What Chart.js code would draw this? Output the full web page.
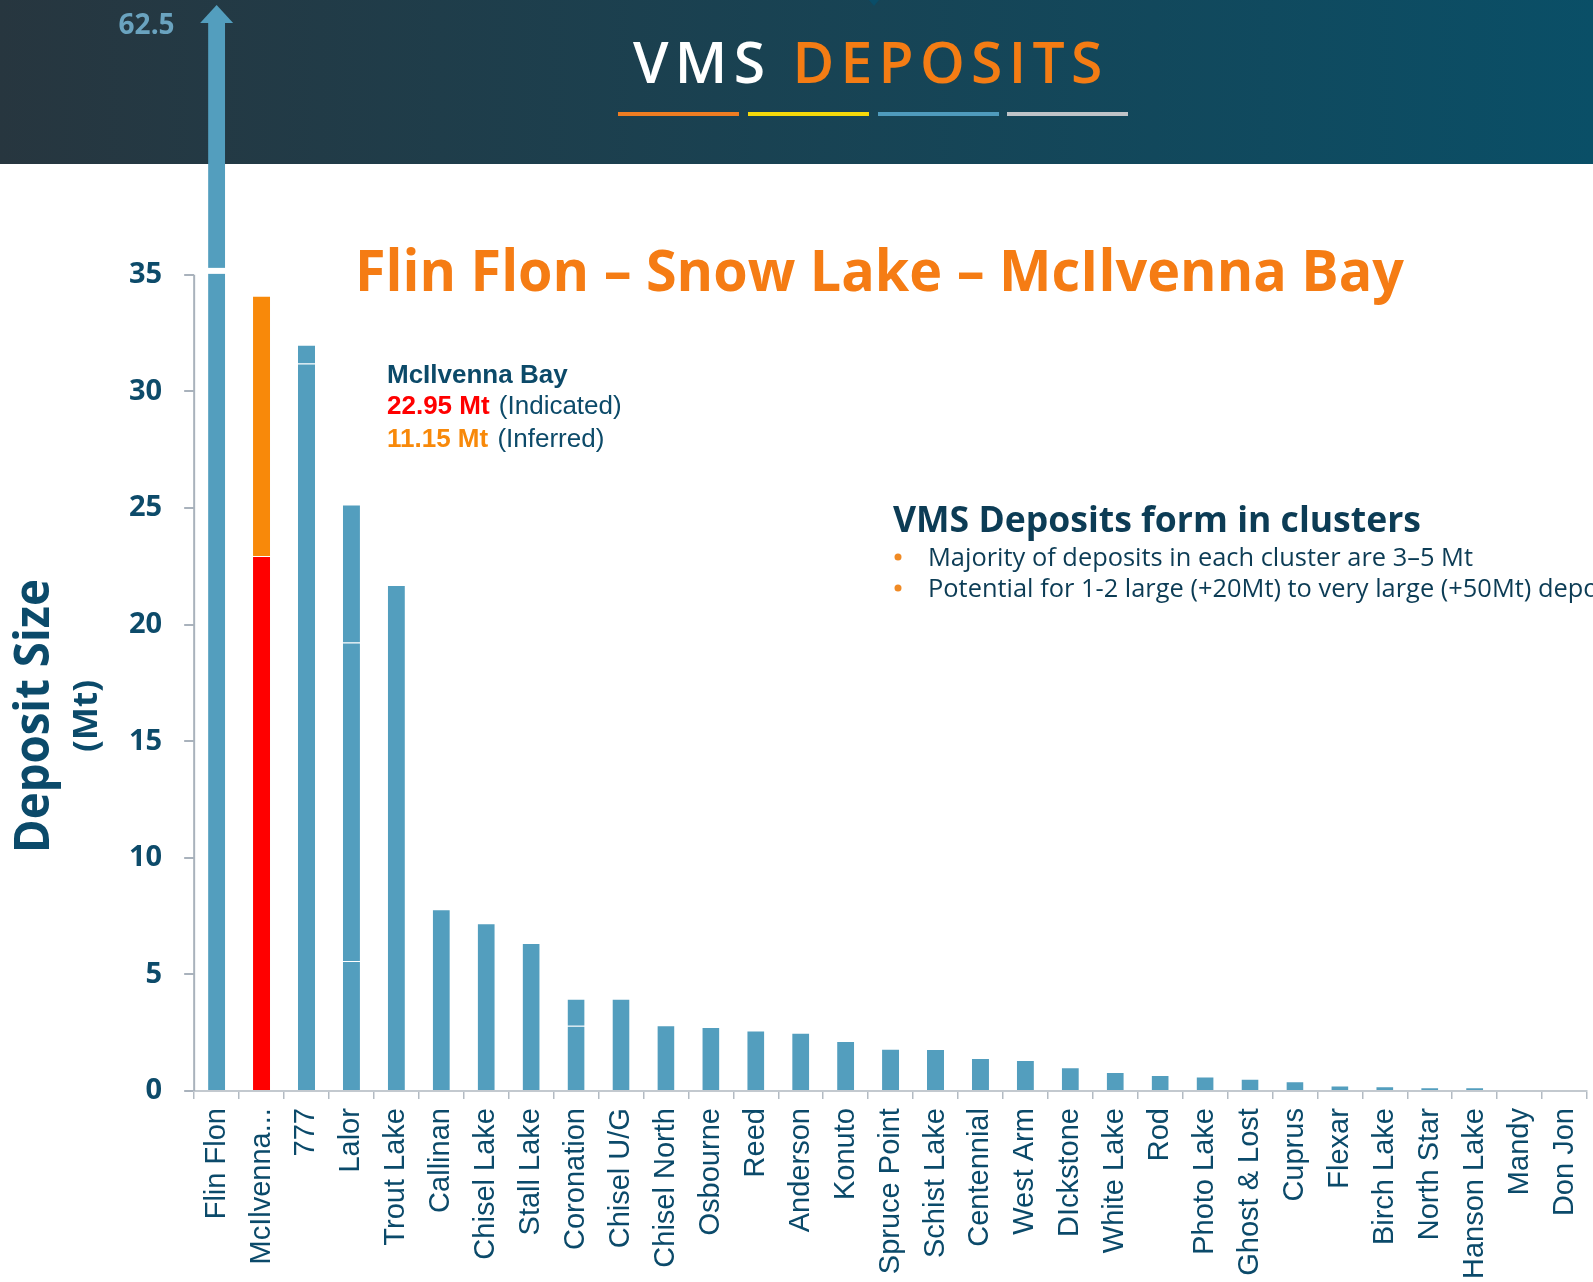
<!DOCTYPE html>
<html>
<head>
<meta charset="utf-8">
<script src="https://cdn.jsdelivr.net/npm/chart.js@4/dist/chart.umd.min.js"></script>
<style>
  html, body { margin: 0; padding: 0; background: #ffffff; overflow: hidden; }
  #chart { display: block; }
</style>
</head>
<body>
<canvas id="chart" width="1593" height="1282"></canvas>
<script>
const categories = ['Flin Flon', 'McIlvenna...', '777', 'Lalor', 'Trout Lake', 'Callinan', 'Chisel Lake',
    'Stall Lake', 'Coronation', 'Chisel U/G', 'Chisel North', 'Osbourne', 'Reed', 'Anderson', 'Konuto',
    'Spruce Point', 'Schist Lake', 'Centennial', 'West Arm', 'DIckstone', 'White Lake', 'Rod', 'Photo Lake',
    'Ghost & Lost', 'Cuprus', 'Flexar', 'Birch Lake', 'North Star', 'Hanson Lake', 'Mandy', 'Don Jon'];

// Mt, bottom piece of each bar (McIlvenna: indicated)
const lowerPart = [62.5, 22.95, 31.2, 5.58, 21.7, 7.8, 7.2, 6.35, 2.8, 3.96, 2.82, 2.75, 2.6, 2.5, 2.15,
    1.82, 1.8, 1.42, 1.33, 1.02, 0.82, 0.69, 0.63, 0.53, 0.42, 0.24, 0.21, 0.17, 0.16, 0.05, 0.05];
// second piece (McIlvenna: inferred)
const middlePart = [null, 11.15, 0.8, 13.66, null, null, null, null, 1.16, null, null, null, null, null, null,
    null, null, null, null, null, null, null, null, null, null, null, null, null, null, null, null];
const upperPart = [null, null, null, 5.91, null, null, null, null, null, null, null, null, null, null, null,
    null, null, null, null, null, null, null, null, null, null, null, null, null, null, null, null];

const yTicks = [0, 5, 10, 15, 20, 25, 30, 35];
const axisBreak = 35;

const blue = '#539ebe';
const navy = '#0c4a69';
const highlight = categories.indexOf('McIlvenna...');

const lowerColors = categories.map((c, i) => i === highlight ? '#ff0000' : blue);
const middleColors = categories.map((c, i) => i === highlight ? '#f8890a' : blue);

function fitText(ctx, text, x, y, width) {
    const w = ctx.measureText(text).width;
    ctx.save();
    ctx.translate(x, y);
    ctx.scale(width / w, 1);
    ctx.fillText(text, 0, 0);
    ctx.restore();
}

const slide = {
    id: 'slide',
    beforeDraw(chart) {
        const ctx = chart.ctx;
        ctx.save();
        const g = ctx.createLinearGradient(0, 0, chart.width, 0);
        g.addColorStop(0, '#27363f');
        g.addColorStop(1, '#0a4f67');
        ctx.fillStyle = g;
        ctx.fillRect(0, 0, chart.width, 164);

        ctx.fillStyle = '#0a4d68';
        ctx.beginPath();
        ctx.moveTo(869, 0); ctx.lineTo(879, 0); ctx.lineTo(874, 6); ctx.closePath();
        ctx.fill();

        ctx.textBaseline = 'alphabetic';
        ctx.textAlign = 'left';
        ctx.font = '600 57px "Open Sans"';
        ctx.letterSpacing = '6.3px';
        ctx.fillStyle = '#ffffff';
        ctx.fillText('VMS', 633, 83);
        const vw = ctx.measureText('VMS ').width;
        ctx.fillStyle = '#f47c14';
        ctx.fillText('DEPOSITS', 633 + vw, 83);
        ctx.letterSpacing = '0px';

        [['#ef7d22', 618], ['#f5d90a', 748], ['#4f9bbd', 878], ['#c0c4c8', 1007]].forEach(([c, x]) => {
            ctx.fillStyle = c;
            ctx.fillRect(x, 112, 121, 4);
        });
        ctx.restore();
    },
    afterDraw(chart) {
        const ctx = chart.ctx;
        const y = chart.scales.y;
        const area = chart.chartArea;
        ctx.save();

        // y axis line up to the break
        ctx.strokeStyle = '#a9b2bc';
        ctx.lineWidth = 2;
        ctx.beginPath();
        ctx.moveTo(area.left, y.getPixelForValue(0));
        ctx.lineTo(area.left, y.getPixelForValue(axisBreak));
        ctx.stroke();

        // broken bar: gap, arrow head, value
        const bar = chart.getDatasetMeta(0).data[0];
        const bw = bar.width;
        const yb = y.getPixelForValue(axisBreak);
        ctx.fillStyle = '#ffffff';
        ctx.fillRect(bar.x - bw / 2 - 1, yb - 7, bw + 2, 6);
        ctx.fillStyle = blue;
        ctx.beginPath();
        ctx.moveTo(bar.x - 16.5, area.top);
        ctx.lineTo(bar.x + 16.5, area.top);
        ctx.lineTo(bar.x, area.top - 18);
        ctx.closePath();
        ctx.fill();
        ctx.font = 'bold 28px "Open Sans"';
        ctx.fillStyle = '#6aa3bf';
        ctx.textAlign = 'right';
        ctx.fillText(String(lowerPart[0]), bar.x - 42, area.top + 11);

        // headline
        ctx.textAlign = 'left';
        ctx.fillStyle = '#f57c14';
        ctx.font = 'bold 57px "Open Sans"';
        fitText(ctx, 'Flin Flon \u2013 Snow Lake \u2013 McIlvenna Bay', 355, 291, 1049);

        // McIlvenna note
        ctx.font = 'bold 26px "Liberation Sans"';
        ctx.fillStyle = navy;
        ctx.fillText('McIlvenna Bay', 387, 383);
        const notes = [[lowerPart[highlight], '#ff0000', ' (Indicated)', 414],
                       [middlePart[highlight], '#f8890a', ' (Inferred)', 447]];
        notes.forEach(([v, c, t, by]) => {
            ctx.font = 'bold 26px "Liberation Sans"';
            ctx.fillStyle = c;
            const s = v.toFixed(2) + ' Mt';
            ctx.fillText(s, 387, by);
            const w = ctx.measureText(s).width;
            ctx.font = '26px "Liberation Sans"';
            ctx.fillStyle = navy;
            ctx.fillText(t, 387 + w + 2, by);
        });

        // cluster note
        ctx.fillStyle = '#0c3c55';
        ctx.font = 'bold 36px "Open Sans"';
        fitText(ctx, 'VMS Deposits form in clusters', 893, 532, 528);
        ctx.font = '25px "Open Sans"';
        const l1 = 'Majority of deposits in each cluster are 3\u20135 Mt';
        const k = 545 / ctx.measureText(l1).width;
        [[l1, 566], ['Potential for 1-2 large (+20Mt) to very large (+50Mt) deposits', 597]].forEach(([t, by]) => {
            ctx.fillStyle = '#0c3c55';
            fitText(ctx, t, 928, by, ctx.measureText(t).width * k);
            ctx.fillStyle = '#f08a24';
            ctx.beginPath();
            ctx.arc(898, by - 9, 3.5, 0, Math.PI * 2);
            ctx.fill();
        });

        // y axis title
        ctx.fillStyle = '#0b4a6a';
        ctx.textAlign = 'center';
        ctx.save();
        ctx.translate(49, 716);
        ctx.rotate(-Math.PI / 2);
        ctx.font = 'bold 48px "Open Sans"';
        const tw = ctx.measureText('Deposit Size').width;
        ctx.scale(274 / tw, 1);
        ctx.fillText('Deposit Size', 0, 0);
        ctx.restore();
        ctx.save();
        ctx.translate(97, 716);
        ctx.rotate(-Math.PI / 2);
        ctx.font = 'bold 34px "Open Sans"';
        const mw = ctx.measureText('(Mt)').width;
        ctx.scale(72 / mw, 1);
        ctx.fillText('(Mt)', 0, 0);
        ctx.restore();

        ctx.restore();
    }
};

const edge = 'rgba(255,255,255,0.25)';
const topBorder = { top: 1, left: 0, right: 0, bottom: 0 };

new Chart(document.getElementById('chart'), {
    type: 'bar',
    data: {
        labels: categories,
        datasets: [
            { data: lowerPart, backgroundColor: lowerColors, borderColor: edge, borderWidth: topBorder, borderSkipped: false },
            { data: middlePart, backgroundColor: middleColors, borderColor: edge, borderWidth: topBorder, borderSkipped: false },
            { data: upperPart, backgroundColor: blue, borderColor: edge, borderWidth: topBorder, borderSkipped: false }
        ]
    },
    options: {
        responsive: false,
        animation: false,
        devicePixelRatio: 1,
        barPercentage: 0.38,
        categoryPercentage: 1,
        layout: { padding: { left: 107, right: 6, top: 23, bottom: -6 } },
        plugins: { legend: { display: false }, tooltip: { enabled: false } },
        scales: {
            x: {
                stacked: true,
                offset: true,
                afterFit: s => { s.paddingLeft = 0; s.paddingRight = 0; },
                grid: { offset: true, drawOnChartArea: false, tickLength: 8, color: '#b3bbc3', lineWidth: 1.5 },
                border: { color: '#c3c9cf', width: 2 },
                ticks: {
                    autoSkip: false, maxRotation: 90, minRotation: 90, padding: 9,
                    color: '#0b4a6a', font: { family: 'Liberation Sans', size: 29 }
                }
            },
            y: {
                stacked: true,
                min: 0,
                max: 45.8,
                afterBuildTicks: s => { s.ticks = yTicks.map(v => ({ value: v })); },
                afterFit: s => { s.paddingTop = 0; s.paddingBottom = 0; },
                grid: { drawOnChartArea: false, tickLength: 10, color: '#a9b2bc', lineWidth: 2 },
                border: { display: false },
                ticks: {
                    padding: 22, color: '#0d4b6a',
                    font: { family: 'Open Sans', size: 29, weight: 'bold' }
                }
            }
        }
    },
    plugins: [slide]
});
</script>
</body>
</html>
